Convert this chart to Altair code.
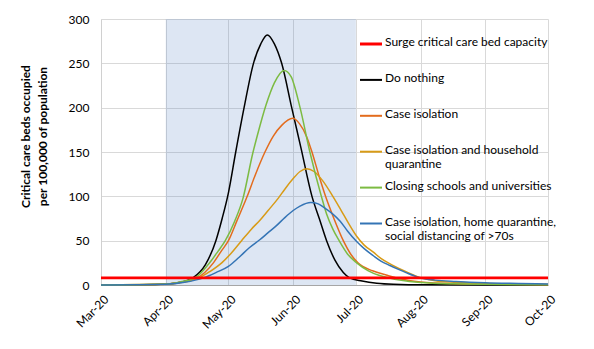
import altair as alt
import pandas as pd

# ---- data (days after 1 Mar 2020, value) ----
series = [
    "Surge critical care bed capacity",
    "Do nothing",
    "Case isolation",
    "Case isolation and household|quarantine",
    "Closing schools and universities",
    "Case isolation, home quarantine,|social distancing of >70s",
]
colors = ["#FF0000", "#000000", "#E36C1D", "#D89B16", "#7CBB42", "#3474B5"]

surge_days = [0, 214]
surge_vals = [8, 8]

black_days = [0, 20, 31, 38, 44, 50, 55, 58, 61, 64.5, 68.5, 73, 76.5, 79.6, 83, 86.5, 91.3, 95.7, 101, 104.5, 108, 112, 116, 119, 125, 132, 140, 155, 214]
black_vals = [0, 0.2, 1, 3, 8, 23, 50, 75, 104, 150, 200, 250, 272, 282, 272, 250, 200, 155, 100, 75, 50, 28, 14, 8, 4.5, 2, 0.8, 0.2, 0]

orange_days = [0, 31, 38, 46, 53.8, 57.5, 61, 65, 70, 74, 78.5, 82.5, 86.5, 91.8, 95, 98.5, 101, 104.5, 107.5, 111.5, 116, 119.5, 123, 130, 137, 143, 153, 170, 184, 214]
orange_vals = [0, 1, 3, 8, 25, 38, 50, 72, 100, 125, 150, 168, 180, 188, 182, 167, 150, 122, 100, 75, 50, 35, 25, 16, 11, 7, 3.5, 1.5, 1, 0.4]

gold_days = [0, 31, 39, 47, 52, 57.8, 62, 67.3, 72, 76.1, 80, 84.9, 88, 92, 95.3, 98.5, 102, 106, 111, 115, 118.4, 122.4, 126, 130.4, 134, 139, 146, 153, 160, 170, 184, 200, 214]
gold_vals = [0, 0.8, 3, 8, 15, 25, 35, 50, 63, 73, 84, 98, 108, 120, 128, 131, 128, 118, 100, 84, 70, 55, 45, 37, 30, 23, 15, 8.3, 4.8, 3, 1.7, 1.2, 0.8]

green_days = [0, 31, 38, 45, 52, 56, 59.5, 64, 68, 72.6, 75, 79, 83, 87.7, 91, 95.3, 100, 105.5, 108, 111, 114, 118, 122.4, 128, 133, 138, 143, 153, 170, 184, 214]
green_vals = [0, 1, 3.5, 8, 25, 38, 50, 72, 98, 148, 170, 203, 228, 242, 235, 200, 150, 100, 80, 63, 50, 35, 25, 16, 11, 8, 5.6, 2.8, 1.3, 0.8, 0.3]

blue_days = [0, 31, 40, 49, 55, 61, 66, 71, 76, 80, 84, 88, 92, 95.3, 100.4, 104, 107, 111, 114.5, 118, 122.4, 126, 130.4, 134, 138.3, 143, 146, 153, 160, 170, 184, 200, 214]
blue_vals = [0, 0.8, 3, 8, 14, 21, 31, 42, 51, 59, 67, 76, 84, 89, 93, 91.5, 87, 80, 72, 61, 49, 41, 33, 27, 22, 17, 14, 8, 5.5, 4, 2.6, 1.8, 1.2]

month_ticks = ["2020-03-01", "2020-04-01", "2020-05-01", "2020-06-01",
               "2020-07-01", "2020-08-01", "2020-09-01", "2020-10-01"]
shade_start = ["2020-04-01"]
shade_end = ["2020-07-01"]
y_ticks = [0, 50, 100, 150, 200, 250, 300]

# ---- build tables ----
start = pd.Timestamp("2020-03-01")
rows = []
for name, days, vals in zip(
    series,
    [surge_days, black_days, orange_days, gold_days, green_days, blue_days],
    [surge_vals, black_vals, orange_vals, gold_vals, green_vals, blue_vals],
):
    for d, v in zip(days, vals):
        t = start + pd.to_timedelta(d, unit="D")
        rows.append({"series": name, "date": t.strftime("%Y-%m-%dT%H:%M:%SZ"), "value": v})
df = pd.DataFrame(rows)
legend_df = pd.DataFrame({"series": series, "row": list(range(len(series)))})


def dt(s):
    y, m, d = (int(p) for p in s.split("-"))
    return alt.DateTime(year=y, month=m, date=d, utc=True)


FONT = "Lato"
xscale = alt.Scale(type="utc", domain=[dt(month_ticks[0]), dt(month_ticks[-1])])
yscale = alt.Scale(domain=[0, 300], nice=False)
cscale = alt.Scale(domain=series, range=colors)

x_enc = alt.X(
    "date:T",
    scale=xscale,
    title=None,
    axis=alt.Axis(
        values=[dt(m) for m in month_ticks],
        format="%b-%y",
        labelAngle=315,
        labelAlign="right",
        labelBaseline="middle",
        labelPadding=12,
        labelOffset=5,
        ticks=False,
        grid=True,
        gridColor="#D9D9D9",
        domainColor="#A6A6A6",
        labelFont=FONT,
        labelFontSize=12,
        labelColor="#000000",
    ),
)
y_enc = alt.Y(
    "value:Q",
    scale=yscale,
    title=["Critical care beds occupied", "per 100,000 of population"],
    axis=alt.Axis(
        values=y_ticks,
        ticks=False,
        grid=True,
        gridColor="#D9D9D9",
        domainColor="#D0D0D0",
        labelPadding=12,
        labelFont=FONT,
        labelFontSize=12,
        labelColor="#000000",
        titleFont=FONT,
        titleFontSize=12,
        titleFontWeight="bold",
        titleColor="#000000",
        titleAngle=270,
        titleAlign="center",
        titleBaseline="middle",
        titleX=-76,
        titleY=117,
        titleLineHeight=17,
    ),
)
c_enc = alt.Color("series:N", scale=cscale, legend=None)

shade_df = pd.DataFrame({"s": [s + "T00:00:00Z" for s in shade_start],
                         "e": [e + "T00:00:00Z" for e in shade_end]})
shade = alt.Chart(shade_df).mark_rect(fill="#4375BD", opacity=0.18).encode(
    x=alt.X("s:T", scale=xscale),
    x2="e:T",
    y=alt.datum(0, scale=yscale),
    y2=alt.datum(300),
)

curves = alt.Chart(df).transform_filter(
    alt.datum.series != series[0]
).mark_line(interpolate="monotone", strokeWidth=1.5).encode(
    x=x_enc, y=y_enc, color=c_enc, order=alt.Order("date:T")
)

surge = alt.Chart(df).transform_filter(
    alt.datum.series == series[0]
).mark_line(strokeWidth=2.6).encode(
    x=x_enc, y=y_enc, color=c_enc, order=alt.Order("date:T")
)

# legend drawn inside the plot, one entry per series, evenly spaced
leg_base = alt.Chart(legend_df).transform_calculate(ypix="25 + 35.9 * datum.row")

leg_rules = leg_base.mark_rule().encode(
    x=alt.value(259),
    x2=alt.value(281),
    y=alt.Y("ypix:Q", scale=None),
    color=c_enc,
    strokeWidth=alt.condition(alt.datum.row == 0, alt.value(3), alt.value(2)),
)

leg_text = leg_base.mark_text(
    align="left", baseline="top", dy=-7, lineBreak="|", lineHeight=14,
    font=FONT, fontSize=12, color="#000000",
).encode(
    x=alt.value(284),
    y=alt.Y("ypix:Q", scale=None),
    text="series:N",
)

chart = (
    alt.layer(shade, curves, surge, leg_rules, leg_text)
    .properties(
        width=447,
        height=266,
        padding={"left": 101, "top": 19, "right": 46, "bottom": 64},
        autosize=alt.AutoSizeParams(type="none"),
    )
    .configure_view(stroke=None)
)

chart.save("out.html", embed_options={"renderer": "svg", "actions": False})
